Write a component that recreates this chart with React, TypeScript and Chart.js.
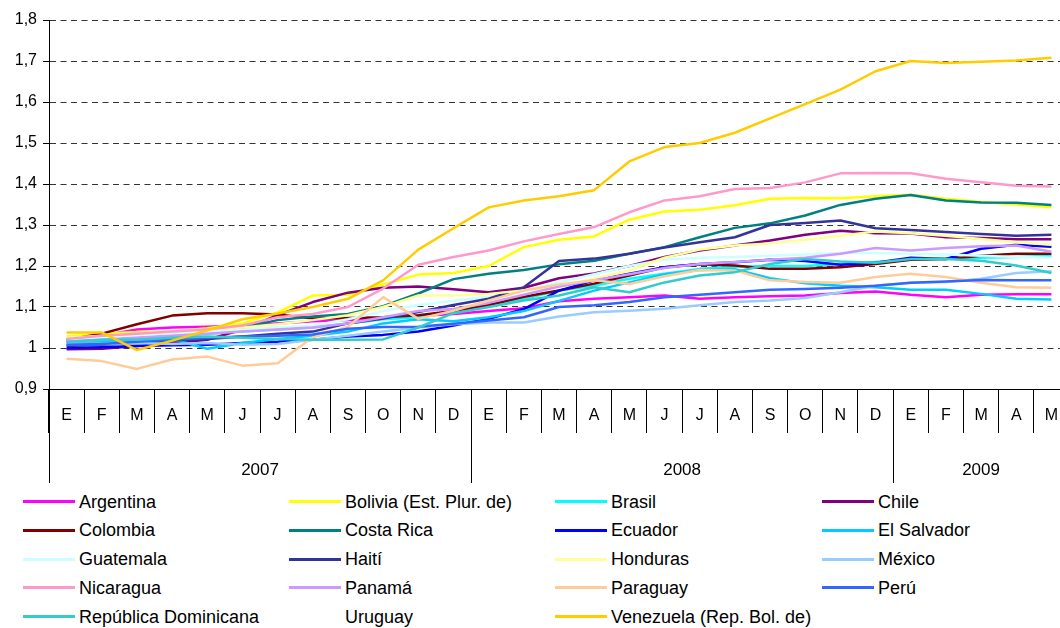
import React, { useEffect, useRef } from 'react';
import { Chart, registerables } from 'chart.js';
Chart.register(...registerables);

const months = ['E','F','M','A','M','J','J','A','S','O','N','D','E','F','M','A','M','J','J','A','S','O','N','D','E','F','M','A','M'];
const years = ['2007', '2008', '2009'];
const yearStarts = [0, 12, 24];
const yearEnds = [11, 23, 28];

const argentina = [1.02,1.03,1.045,1.05,1.052,1.055,1.06,1.065,1.068,1.072,1.078,1.083,1.09,1.097,1.114,1.12,1.124,1.128,1.12,1.124,1.126,1.128,1.134,1.138,1.13,1.124,1.13,1.131,1.131];
const bolivia = [1.028,1.035,1.039,1.04,1.048,1.06,1.087,1.128,1.13,1.155,1.179,1.183,1.2,1.246,1.264,1.272,1.313,1.333,1.337,1.348,1.364,1.366,1.365,1.37,1.374,1.364,1.356,1.35,1.343];
const brasil = [1.012,1.018,1.025,1.03,1.035,1.04,1.045,1.05,1.06,1.07,1.075,1.09,1.105,1.12,1.14,1.152,1.169,1.181,1.193,1.198,1.2,1.2,1.205,1.21,1.215,1.218,1.22,1.222,1.225];
const chile = [0.997,0.998,1.005,1.012,1.02,1.045,1.08,1.112,1.135,1.147,1.15,1.143,1.136,1.147,1.17,1.182,1.2,1.222,1.238,1.25,1.262,1.276,1.286,1.28,1.279,1.27,1.268,1.265,1.265];
const colombia = [1.02,1.035,1.058,1.079,1.085,1.085,1.082,1.072,1.073,1.075,1.08,1.09,1.105,1.125,1.14,1.157,1.177,1.197,1.204,1.201,1.193,1.193,1.197,1.205,1.215,1.217,1.225,1.23,1.23];
const costaRica = [1.017,1.022,1.03,1.035,1.045,1.05,1.068,1.077,1.083,1.102,1.133,1.168,1.181,1.19,1.204,1.213,1.23,1.246,1.27,1.293,1.304,1.323,1.349,1.364,1.373,1.36,1.355,1.354,1.349];
const ecuador = [1.0,1.002,1.005,1.007,1.008,1.012,1.015,1.02,1.028,1.032,1.04,1.055,1.071,1.095,1.14,1.165,1.181,1.197,1.205,1.209,1.215,1.212,1.203,1.208,1.22,1.217,1.242,1.252,1.247];
const elSalvador = [1.01,1.015,1.02,1.022,0.998,1.012,1.022,1.03,1.04,1.06,1.07,1.065,1.075,1.09,1.115,1.14,1.16,1.18,1.19,1.192,1.17,1.158,1.152,1.148,1.142,1.142,1.132,1.12,1.118];
const guatemala = [1.02,1.025,1.03,1.035,1.04,1.045,1.05,1.055,1.07,1.09,1.105,1.115,1.125,1.14,1.16,1.18,1.2,1.215,1.22,1.222,1.225,1.228,1.232,1.232,1.23,1.228,1.225,1.222,1.22];
const haiti = [1.005,1.008,1.012,1.018,1.022,1.028,1.035,1.04,1.06,1.072,1.088,1.105,1.12,1.148,1.212,1.218,1.23,1.245,1.258,1.27,1.3,1.305,1.311,1.292,1.288,1.283,1.278,1.274,1.276];
const honduras = [1.025,1.03,1.035,1.04,1.045,1.05,1.058,1.068,1.08,1.1,1.128,1.128,1.132,1.14,1.15,1.169,1.189,1.22,1.24,1.25,1.255,1.264,1.274,1.284,1.28,1.274,1.266,1.258,1.252];
const mexico = [1.01,1.01,1.012,1.01,1.012,1.008,1.01,1.02,1.03,1.04,1.05,1.058,1.062,1.062,1.077,1.087,1.091,1.096,1.104,1.112,1.116,1.122,1.136,1.152,1.159,1.161,1.169,1.183,1.187];
const nicaragua = [1.022,1.03,1.035,1.04,1.045,1.055,1.075,1.083,1.1,1.145,1.203,1.222,1.238,1.26,1.278,1.295,1.331,1.36,1.37,1.388,1.39,1.404,1.426,1.427,1.426,1.413,1.404,1.396,1.394];
const panama = [1.015,1.02,1.025,1.03,1.035,1.04,1.045,1.05,1.06,1.075,1.09,1.095,1.11,1.13,1.15,1.165,1.18,1.195,1.205,1.21,1.215,1.22,1.23,1.244,1.238,1.244,1.248,1.25,1.235];
const paraguay = [0.974,0.968,0.949,0.972,0.979,0.957,0.963,1.026,1.052,1.124,1.071,1.091,1.116,1.14,1.155,1.165,1.156,1.175,1.19,1.189,1.165,1.161,1.159,1.173,1.181,1.173,1.159,1.148,1.147];
const peru = [1.008,1.01,1.015,1.02,1.025,1.028,1.03,1.033,1.047,1.051,1.052,1.059,1.067,1.075,1.1,1.104,1.112,1.124,1.13,1.136,1.142,1.144,1.147,1.152,1.159,1.162,1.166,1.165,1.165];
const repDominicana = [1.015,1.02,1.02,1.025,1.028,1.025,1.022,1.02,1.02,1.021,1.05,1.085,1.1,1.116,1.128,1.148,1.136,1.16,1.177,1.185,1.205,1.217,1.211,1.208,1.217,1.217,1.213,1.201,1.183];
const uruguay = [1.03,1.05,1.07,1.08,1.085,1.09,1.1,1.11,1.12,1.13,1.15,1.167,1.185,1.195,1.204,1.215,1.222,1.235,1.245,1.255,1.265,1.272,1.278,1.284,1.29,1.29,1.29,1.29,1.29];
const venezuela = [1.038,1.038,0.995,1.018,1.043,1.07,1.084,1.1,1.12,1.165,1.24,1.292,1.343,1.36,1.37,1.385,1.455,1.49,1.5,1.525,1.56,1.595,1.63,1.675,1.7,1.695,1.698,1.701,1.708];

const seriesNames = ['Argentina','Bolivia (Est. Plur. de)','Brasil','Chile','Colombia','Costa Rica','Ecuador','El Salvador','Guatemala','Haití','Honduras','México','Nicaragua','Panamá','Paraguay','Perú','República Dominicana','Uruguay','Venezuela (Rep. Bol. de)'];
const seriesData = [argentina,bolivia,brasil,chile,colombia,costaRica,ecuador,elSalvador,guatemala,haiti,honduras,mexico,nicaragua,panama,paraguay,peru,repDominicana,uruguay,venezuela];
const seriesColors = ['#FF00FF','#FFFF00','#00FFFF','#800080','#800000','#008080','#0000FF','#00CCFF','#CCFFFF','#333399','#FFFF99','#99CCFF','#FF99CC','#CC99FF','#FFCC99','#3366FF','#33CCCC','#FFFFFF','#FFCC00'];

const FONT = '"Liberation Sans", Arial, sans-serif';
const legendColX = [23, 289, 555, 822];
const legendRowY = [501.5, 530.3, 559.1, 587.9, 616.7];

export default function App() {
  const ref = useRef<HTMLCanvasElement>(null);
  useEffect(() => {
    if (!ref.current) return;
    Chart.defaults.font.family = FONT;
    const yearPlugin = {
      id: 'yearRow',
      afterDraw(chart: any) {
        const xs = chart.scales.x;
        const ctx = chart.ctx;
        const cw = xs.getPixelForValue(1) - xs.getPixelForValue(0);
        const bottom = chart.chartArea.bottom;
        ctx.save();
        ctx.strokeStyle = '#000';
        ctx.lineWidth = 1;
        ctx.fillStyle = '#000';
        ctx.font = '17px ' + FONT;
        ctx.textAlign = 'center';
        ctx.textBaseline = 'middle';
        yearStarts.forEach((s, k) => {
          const bx = Math.round(xs.getPixelForValue(s) - cw / 2) + 0.5;
          ctx.beginPath();
          ctx.moveTo(bx, bottom);
          ctx.lineTo(bx, bottom + 94);
          ctx.stroke();
          const cx = (xs.getPixelForValue(s) + xs.getPixelForValue(yearEnds[k])) / 2;
          ctx.fillText(years[k], cx, bottom + 81);
        });
        ctx.restore();
      },
    };
    const chart = new Chart(ref.current, {
      type: 'line',
      data: {
        labels: months,
        datasets: seriesNames.map((name, i) => ({
          label: name,
          data: seriesData[i],
          borderColor: seriesColors[i],
          backgroundColor: seriesColors[i],
          borderWidth: 2.5,
          pointRadius: 0,
          pointHoverRadius: 0,
          tension: 0,
          fill: false,
          borderJoinStyle: 'round' as const,
          order: name === 'Uruguay' ? 100 : seriesNames.length - 1 - i,
        })),
      },
      options: {
        responsive: false,
        animation: false,
        events: [],
        layout: { padding: { top: 20, right: 0, bottom: 0, left: 0 } },
        plugins: { legend: { display: false }, tooltip: { enabled: false } },
        scales: {
          x: {
            offset: true,
            afterFit: (s: any) => { s.height = 101; },
            grid: { offset: true, drawOnChartArea: false, drawTicks: true, tickLength: 44, color: '#000', lineWidth: 1 },
            border: { display: true, color: '#000', width: 1 },
            ticks: { autoSkip: false, maxRotation: 0, minRotation: 0, padding: -27, color: '#000', font: { size: 16, family: FONT } },
          },
          y: {
            min: 0.9,
            max: 1.8,
            afterFit: (s: any) => { s.width = 49; },
            grid: {
              color: (c: any) => (c.tick && Math.abs(c.tick.value - 0.9) < 1e-6 ? 'rgba(0,0,0,0)' : '#333'),
              tickColor: '#000',
              lineWidth: 1,
              drawTicks: true,
              tickLength: 6,
            },
            border: { display: true, color: '#000', width: 1, dash: [6, 4.5] },
            ticks: {
              stepSize: 0.1,
              padding: 6,
              color: '#000',
              font: { size: 16, family: FONT },
              callback: (v: any) => String(Math.round(Number(v) * 10) / 10).replace('.', ','),
            },
          },
        },
      },
      plugins: [yearPlugin],
    });
    return () => chart.destroy();
  }, []);

  return (
    <div style={{ position: 'fixed', left: 0, top: 0, width: 1060, height: 628, overflow: 'hidden', background: '#fff', fontFamily: FONT }}>
      <canvas ref={ref} width={1069} height={490} style={{ position: 'absolute', left: 0, top: 0, width: 1069, height: 490 }} />
      {seriesNames.map((name, i) => {
        const col = i % 4;
        const row = Math.floor(i / 4);
        const x = legendColX[col];
        const y = legendRowY[row];
        return (
          <div key={name}>
            <div style={{ position: 'absolute', left: x, top: y - 1.5, width: 52, height: 3, background: seriesColors[i] }} />
            <div style={{ position: 'absolute', left: x + 56, top: y - 11, height: 22, lineHeight: '22px', fontSize: 18, color: '#000', whiteSpace: 'nowrap' }}>{name}</div>
          </div>
        );
      })}
    </div>
  );
}
